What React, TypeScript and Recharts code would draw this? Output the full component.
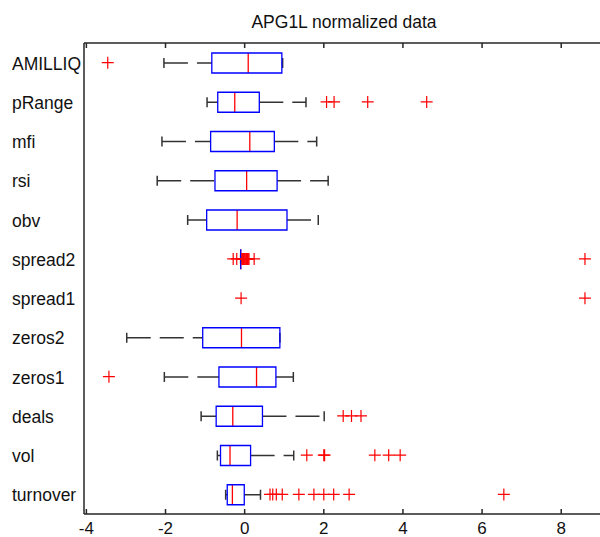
import { ComposedChart, Bar, Scatter, XAxis, YAxis } from 'recharts';

const categories = ['AMILLIQ', 'pRange', 'mfi', 'rsi', 'obv', 'spread2', 'spread1', 'zeros2', 'zeros1', 'deals', 'vol', 'turnover'];
const whiskerLow = [-2.04, -0.95, -2.09, -2.21, -1.44, -0.1, null, -2.98, -2.03, -1.1, -0.69, -0.48];
const quartile1 = [-0.83, -0.68, -0.86, -0.75, -0.96, -0.1, null, -1.06, -0.65, -0.72, -0.61, -0.44];
const medians = [0.09, -0.25, 0.13, 0.05, -0.19, -0.1, null, -0.08, 0.3, -0.3, -0.37, -0.31];
const quartile3 = [0.94, 0.37, 0.75, 0.82, 1.07, -0.1, null, 0.89, 0.79, 0.45, 0.15, -0.01];
const whiskerHigh = [0.96, 1.55, 1.82, 2.11, 1.86, -0.1, null, 0.89, 1.23, 2.01, 1.24, 0.4];
const outliers = [
  [-3.46],
  [2.07, 2.26, 3.11, 4.6],
  [],
  [],
  [],
  [-0.29, -0.2, -0.07, -0.05, -0.03, -0.01, 0.01, 0.03, 0.05, 0.07, 0.09, 0.11, 0.24, 8.6],
  [-0.09, 8.6],
  [],
  [-3.43],
  [2.49, 2.7, 2.94],
  [1.57, 2.0, 2.02, 3.29, 3.64, 3.93],
  [0.64, 0.71, 0.8, 0.95, 1.37, 1.75, 2.0, 2.25, 2.64, 6.55],
];
const xTicks = [-4, -2, 0, 2, 4, 6, 8];
const xDomain = [-4.06, 8.98];

const rows = categories.map((name, i) => ({
  name,
  lo: whiskerLow[i],
  q1: quartile1[i],
  median: medians[i],
  q3: quartile3[i],
  hi: whiskerHigh[i],
}));

const outlierPoints = categories.flatMap((name, i) => outliers[i].map(v => ({ name, v })));

const AXIS = '#262626';
const TEXT = '#111';
const FONT = '"Liberation Sans", Arial, Helvetica, sans-serif';

function Whisker(props: any) {
  const { x, y, width, height, payload, side } = props;
  if (payload == null || payload.q1 == null || !isFinite(x) || !isFinite(width)) return <g />;
  const x0 = Math.min(x, x + width);
  const x1 = Math.max(x, x + width);
  const cy = y + height / 2;
  const capX = side === 'low' ? x0 : x1;
  return (
    <g>
      <path d={`M${x0},${cy}H${x1}`} stroke="#333" strokeWidth={1.5} strokeDasharray="24 9" fill="none" />
      <path d={`M${capX},${cy - 5}V${cy + 5}`} stroke="#333" strokeWidth={1.5} fill="none" />
    </g>
  );
}

function BoxRect(props: any) {
  const { x, y, width, height, payload } = props;
  if (payload == null || payload.q1 == null || !isFinite(x) || !isFinite(width)) return <g />;
  const x0 = Math.min(x, x + width);
  const w = Math.abs(width);
  return (
    <path
      d={`M${x0},${y}h${w}v${height}h${-w}Z`}
      stroke="#0000ff"
      strokeWidth={1.3}
      fill="none"
    />
  );
}

function MedianLine(props: any) {
  const { x, y, height, payload } = props;
  if (payload == null || payload.median == null || !isFinite(x) || !isFinite(y)) return <g />;
  return <path d={`M${x},${y}V${y + height}`} stroke="#ff0000" strokeWidth={1.3} />;
}

function Cross(props: any) {
  const { cx, cy } = props;
  if (cx == null || cy == null || !isFinite(cx) || !isFinite(cy)) return <g />;
  return <path d={`M${cx - 6},${cy}H${cx + 6}M${cx},${cy - 6}V${cy + 6}`} stroke="#ff0000" strokeWidth={1.2} fill="none" />;
}

function BottomTick(props: any) {
  const { x, y, payload } = props;
  return (
    <g>
      <line x1={x} x2={x} y1={y} y2={y - 5} stroke={AXIS} strokeWidth={1.5} />
      <text x={x} y={y + 19.5} textAnchor="middle" fontSize={17} fontFamily={FONT} fill={TEXT}>
        {String(payload.value)}
      </text>
    </g>
  );
}

function TopTick(props: any) {
  const { x, y } = props;
  return <line x1={x} x2={x} y1={y} y2={y + 5} stroke={AXIS} strokeWidth={1.5} />;
}

function CategoryTick(props: any) {
  const { y, payload } = props;
  return (
    <text x={12} y={y} dy={7} textAnchor="start" fontSize={17.5} fontFamily={FONT} fill={TEXT}>
      {payload.value}
    </text>
  );
}

export default function App() {
  return (
    <div style={{ position: 'absolute', left: 0, top: 0, width: 600, height: 537, background: '#fff' }}>
      <div
        style={{
          position: 'absolute',
          left: 84,
          top: 12,
          width: 520,
          textAlign: 'center',
          fontFamily: FONT,
          fontSize: 17.5,
          lineHeight: 'normal',
          color: TEXT,
        }}
      >
        APG1L normalized data
      </div>
      <ComposedChart
        width={600}
        height={537}
        layout="vertical"
        data={rows}
        margin={{ top: 0, right: 0, bottom: 0, left: 0 }}
      >
        <XAxis
          xAxisId="bottom"
          type="number"
          domain={xDomain}
          ticks={xTicks}
          interval={0}
          allowDataOverflow
          height={23}
          tickSize={0}
          tickMargin={0}
          tickLine={false}
          axisLine={{ stroke: AXIS, strokeWidth: 1.5 }}
          tick={BottomTick}
        />
        <XAxis
          xAxisId="top"
          orientation="top"
          type="number"
          domain={xDomain}
          ticks={xTicks}
          interval={0}
          allowDataOverflow
          height={43}
          tickSize={0}
          tickMargin={0}
          tickLine={false}
          axisLine={{ stroke: AXIS, strokeWidth: 1.5 }}
          tick={TopTick}
        />
        <YAxis yAxisId="low" type="category" dataKey="name" width={0} hide />
        <YAxis yAxisId="high" type="category" dataKey="name" width={0} hide />
        <YAxis yAxisId="box" type="category" dataKey="name" width={0} hide />
        <YAxis
          yAxisId="cat"
          type="category"
          dataKey="name"
          width={84}
          allowDuplicatedCategory={false}
          interval={0}
          tickSize={0}
          tickMargin={0}
          tickLine={false}
          axisLine={{ stroke: AXIS, strokeWidth: 1.5 }}
          tick={CategoryTick}
        />

        <Bar
          xAxisId="bottom"
          yAxisId="low"
          dataKey={(r: any) => (r.lo == null ? null : [r.lo, r.q1])}
          barSize={20}
          shape={(p: any) => <Whisker {...p} side="low" />}
          isAnimationActive={false}
        />
        <Bar
          xAxisId="bottom"
          yAxisId="high"
          dataKey={(r: any) => (r.hi == null ? null : [r.q3, r.hi])}
          barSize={20}
          shape={(p: any) => <Whisker {...p} side="high" />}
          isAnimationActive={false}
        />
        <Bar
          xAxisId="bottom"
          yAxisId="cat"
          dataKey={(r: any) => (r.median == null ? null : [r.median, r.median])}
          barSize={20}
          shape={MedianLine}
          isAnimationActive={false}
        />
        <Bar
          xAxisId="bottom"
          yAxisId="box"
          dataKey={(r: any) => (r.q1 == null ? null : [r.q1, r.q3])}
          barSize={20}
          shape={BoxRect}
          isAnimationActive={false}
        />
        <Scatter
          xAxisId="bottom"
          yAxisId="cat"
          data={outlierPoints}
          dataKey="v"
          shape={Cross}
          isAnimationActive={false}
        />
      </ComposedChart>
    </div>
  );
}
